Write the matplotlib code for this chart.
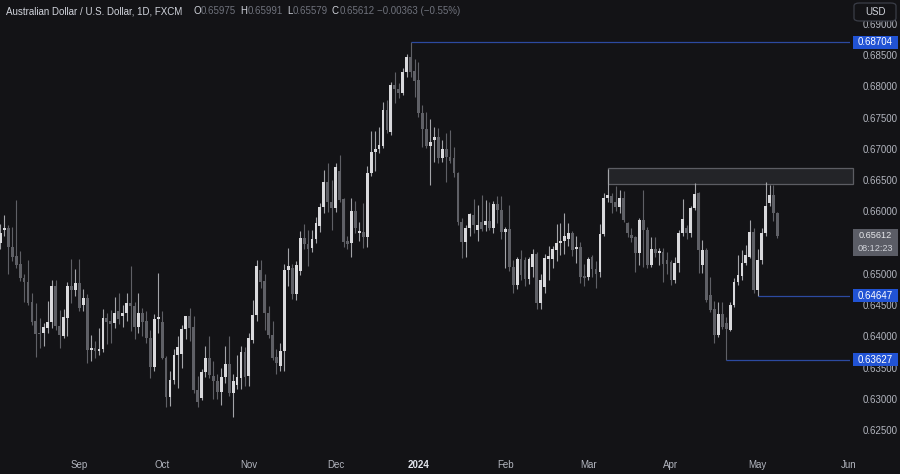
import numpy as np
import pandas as pd
import matplotlib
matplotlib.use("Agg")
import matplotlib.pyplot as plt
from matplotlib.patches import Rectangle, FancyBboxPatch
from matplotlib.transforms import blended_transform_factory

# AUD/USD daily candles, Aug 4 2023 -> May 8 2024
opens = [0.6549, 0.6570, 0.6573, 0.6543, 0.6528, 0.6516, 0.6493, 0.6487, 0.6455, 0.6425,
         0.6406, 0.6405, 0.6413, 0.6423, 0.6480, 0.6416, 0.6400, 0.6430, 0.6480, 0.6474,
         0.6485, 0.6450, 0.6461, 0.6378, 0.6381, 0.6376, 0.6380, 0.6430, 0.6424, 0.6421,
         0.6440, 0.6432, 0.6437, 0.6453, 0.6448, 0.6415, 0.6438, 0.6425, 0.6397, 0.6351,
         0.6428, 0.6423, 0.6365, 0.6303, 0.6330, 0.6370, 0.6372, 0.6412, 0.6432, 0.6415,
         0.6314, 0.6302, 0.6343, 0.6365, 0.6337, 0.6328, 0.6311, 0.6335, 0.6356, 0.6310,
         0.6322, 0.6333, 0.6375, 0.6336, 0.6394, 0.6434, 0.6506, 0.6488, 0.6437, 0.6402,
         0.6367, 0.6352, 0.6377, 0.6506, 0.6510, 0.6468, 0.6505, 0.6557, 0.6548, 0.6541,
         0.6556, 0.6577, 0.6607, 0.6647, 0.6615, 0.6605, 0.6664, 0.6620, 0.6553, 0.6549,
         0.6601, 0.6565, 0.6567, 0.6559, 0.6661, 0.6695, 0.6700, 0.6704, 0.6762, 0.6727,
         0.6802, 0.6795, 0.6789, 0.6823, 0.6847, 0.6825, 0.6810, 0.6757, 0.6731, 0.6704,
         0.6714, 0.6719, 0.6685, 0.6700, 0.6687, 0.6685, 0.6661, 0.6583, 0.6551, 0.6573,
         0.6594, 0.6570, 0.6583, 0.6578, 0.6584, 0.6573, 0.6612, 0.6602, 0.6567, 0.6571,
         0.6511, 0.6482, 0.6523, 0.6522, 0.6491, 0.6511, 0.6531, 0.6453, 0.6479, 0.6523,
         0.6523, 0.6538, 0.6550, 0.6553, 0.6556, 0.6565, 0.6540, 0.6543, 0.6497, 0.6495,
         0.6527, 0.6508, 0.6503, 0.6564, 0.6621, 0.6625, 0.6615, 0.6607, 0.6622, 0.6581,
         0.6562, 0.6559, 0.6533, 0.6586, 0.6570, 0.6514, 0.6540, 0.6533, 0.6535, 0.6522,
         0.6519, 0.6490, 0.6518, 0.6565, 0.6573, 0.6565, 0.6605, 0.6629, 0.6514, 0.6538,
         0.6466, 0.6444, 0.6402, 0.6436, 0.6422, 0.6410, 0.6450, 0.6487, 0.6496, 0.6517,
         0.6527, 0.6567, 0.6474, 0.6522, 0.6565, 0.6613, 0.6626, 0.65975]
highs = [0.6580, 0.6594, 0.6578, 0.6575, 0.6618, 0.6537, 0.6500, 0.6522, 0.6470, 0.6453,
         0.6430, 0.6422, 0.6457, 0.6490, 0.6490, 0.6442, 0.6443, 0.6487, 0.6524, 0.6508,
         0.6524, 0.6475, 0.6467, 0.6402, 0.6392, 0.6413, 0.6443, 0.6437, 0.6442, 0.6463,
         0.6470, 0.6450, 0.6470, 0.6512, 0.6455, 0.6470, 0.6445, 0.6440, 0.6410, 0.6435,
         0.6501, 0.6440, 0.6368, 0.6345, 0.6380, 0.6400, 0.6418, 0.6433, 0.6445, 0.6432,
         0.6337, 0.6348, 0.6385, 0.6400, 0.6360, 0.6340, 0.6350, 0.6385, 0.6400, 0.6340,
         0.6370, 0.6385, 0.6383, 0.6405, 0.6458, 0.6522, 0.6522, 0.6500, 0.6448, 0.6425,
         0.6380, 0.6390, 0.6515, 0.6542, 0.6515, 0.6520, 0.6568, 0.6580, 0.6570, 0.6570,
         0.6591, 0.6613, 0.6666, 0.6677, 0.6650, 0.6677, 0.6690, 0.6621, 0.6560, 0.6622,
         0.6617, 0.6583, 0.6613, 0.6672, 0.6728, 0.6728, 0.6735, 0.6775, 0.6778, 0.6807,
         0.6823, 0.6805, 0.6829, 0.6852, 0.68704, 0.6843, 0.6839, 0.6770, 0.6759, 0.6747,
         0.6735, 0.6734, 0.6714, 0.6725, 0.6730, 0.6703, 0.6663, 0.6590, 0.6578, 0.6598,
         0.6620, 0.6610, 0.6626, 0.6618, 0.6615, 0.6617, 0.6625, 0.6624, 0.6575, 0.6610,
         0.6522, 0.6527, 0.6538, 0.6527, 0.6527, 0.6540, 0.6535, 0.6500, 0.6532, 0.6545,
         0.6545, 0.6580, 0.6582, 0.6598, 0.6582, 0.6568, 0.6560, 0.6551, 0.6515, 0.6527,
         0.6530, 0.6520, 0.6580, 0.6630, 0.6668, 0.6629, 0.6640, 0.6634, 0.6632, 0.6583,
         0.6573, 0.6560, 0.6589, 0.6634, 0.6575, 0.6559, 0.6559, 0.6542, 0.6541, 0.6535,
         0.6522, 0.6527, 0.6570, 0.6620, 0.6578, 0.6608, 0.6645, 0.6631, 0.6554, 0.6541,
         0.6495, 0.6457, 0.6455, 0.6455, 0.6431, 0.6455, 0.6493, 0.6530, 0.6538, 0.6546,
         0.6586, 0.6573, 0.6540, 0.6573, 0.6647, 0.6642, 0.6642, 0.65991]
lows = [0.6540, 0.6560, 0.6500, 0.6520, 0.6510, 0.6488, 0.6455, 0.6450, 0.6418, 0.6367,
        0.6381, 0.6385, 0.6405, 0.6413, 0.6410, 0.6381, 0.6398, 0.6400, 0.6453, 0.6465,
        0.6440, 0.6440, 0.6357, 0.6360, 0.6365, 0.6370, 0.6375, 0.6388, 0.6390, 0.6413,
        0.6420, 0.6415, 0.6425, 0.6408, 0.6395, 0.6405, 0.6400, 0.6390, 0.6333, 0.6345,
        0.6405, 0.6363, 0.6287, 0.6288, 0.6323, 0.6318, 0.6350, 0.6395, 0.6393, 0.6310,
        0.6287, 0.6298, 0.6335, 0.6333, 0.6300, 0.6300, 0.6290, 0.6325, 0.6305, 0.6271,
        0.6316, 0.6315, 0.6320, 0.6320, 0.6390, 0.6425, 0.6478, 0.6410, 0.6398, 0.6362,
        0.6340, 0.6345, 0.6345, 0.6480, 0.6460, 0.6458, 0.6498, 0.6540, 0.6512, 0.6535,
        0.6549, 0.6567, 0.6597, 0.6599, 0.6570, 0.6599, 0.6615, 0.6543, 0.6540, 0.6527,
        0.6565, 0.6553, 0.6541, 0.6543, 0.6656, 0.6664, 0.6693, 0.6701, 0.6725, 0.6722,
        0.6773, 0.6781, 0.6786, 0.6815, 0.6815, 0.6783, 0.6751, 0.6703, 0.6701, 0.6642,
        0.6679, 0.6678, 0.6679, 0.6647, 0.6677, 0.6655, 0.6578, 0.6526, 0.6527, 0.6560,
        0.6565, 0.6553, 0.6568, 0.6568, 0.6570, 0.6565, 0.6582, 0.6555, 0.6509, 0.6505,
        0.6470, 0.6475, 0.6490, 0.6480, 0.6483, 0.6495, 0.6443, 0.6443, 0.6470, 0.6490,
        0.6510, 0.6520, 0.6530, 0.6532, 0.6545, 0.6528, 0.6518, 0.6485, 0.6480, 0.6490,
        0.6495, 0.6477, 0.6495, 0.6560, 0.6615, 0.6597, 0.6600, 0.6598, 0.6583, 0.6559,
        0.6551, 0.6503, 0.6514, 0.6511, 0.6510, 0.6511, 0.6527, 0.6514, 0.6487, 0.6500,
        0.6482, 0.6485, 0.6503, 0.6560, 0.6555, 0.6559, 0.6602, 0.6501, 0.6501, 0.6455,
        0.6439, 0.6389, 0.6399, 0.6412, 0.63627, 0.6408, 0.6447, 0.6482, 0.6490, 0.6514,
        0.6525, 0.6470, 0.64647, 0.6515, 0.6560, 0.6608, 0.6585, 0.65579]
closes = [0.6565, 0.6574, 0.6543, 0.6527, 0.6514, 0.6493, 0.6487, 0.6453, 0.6423, 0.6404,
          0.6403, 0.6415, 0.6423, 0.6480, 0.6416, 0.6402, 0.6431, 0.6480, 0.6474, 0.6485,
          0.6445, 0.6461, 0.6378, 0.6381, 0.6376, 0.6379, 0.6430, 0.6423, 0.6420, 0.6438,
          0.6428, 0.6437, 0.6453, 0.6448, 0.6415, 0.6438, 0.6423, 0.6397, 0.6351, 0.6427,
          0.6431, 0.6365, 0.6303, 0.6330, 0.6370, 0.6383, 0.6412, 0.6432, 0.6413, 0.6314,
          0.6295, 0.6343, 0.6365, 0.6338, 0.6328, 0.6311, 0.6335, 0.6356, 0.6310, 0.6328,
          0.6335, 0.6375, 0.6335, 0.6398, 0.6434, 0.6512, 0.6487, 0.6437, 0.6402, 0.6365,
          0.6357, 0.6377, 0.6506, 0.6512, 0.6468, 0.6514, 0.6557, 0.6548, 0.6540, 0.6556,
          0.6581, 0.6607, 0.6647, 0.6615, 0.6605, 0.6671, 0.6618, 0.6551, 0.6548, 0.6601,
          0.6573, 0.6568, 0.6559, 0.6661, 0.6695, 0.6700, 0.6706, 0.6762, 0.6730, 0.6802,
          0.6795, 0.6789, 0.6823, 0.6847, 0.6823, 0.6808, 0.6757, 0.6731, 0.6705, 0.6711,
          0.6719, 0.6685, 0.6700, 0.6687, 0.6681, 0.6661, 0.6583, 0.6551, 0.6573, 0.6595,
          0.6578, 0.6578, 0.6572, 0.6584, 0.6573, 0.6612, 0.6602, 0.6567, 0.6571, 0.6511,
          0.6482, 0.6523, 0.6498, 0.6492, 0.6523, 0.6531, 0.6453, 0.6490, 0.6525, 0.6528,
          0.6539, 0.6550, 0.6553, 0.6560, 0.6565, 0.6538, 0.6543, 0.6495, 0.6493, 0.6523,
          0.6508, 0.6500, 0.6564, 0.6621, 0.6626, 0.6613, 0.6607, 0.6622, 0.6586, 0.6565,
          0.6558, 0.6533, 0.6586, 0.6570, 0.6514, 0.6540, 0.6534, 0.6536, 0.6516, 0.6515,
          0.6490, 0.6518, 0.6565, 0.6587, 0.6566, 0.6605, 0.6627, 0.6538, 0.6538, 0.6458,
          0.6442, 0.6402, 0.6436, 0.6415, 0.6412, 0.6450, 0.6487, 0.6498, 0.6517, 0.6530,
          0.6567, 0.6474, 0.6522, 0.6565, 0.6608, 0.6626, 0.6598, 0.65612]

level_prices = [0.68704, 0.64647, 0.63627]
zone_low, zone_high = 0.6644, 0.6669
zone_start = "2024-03-08"
# 0.65500 sits under the live-price tag, so it is not listed
y_ticks = [0.625, 0.630, 0.635, 0.640, 0.645, 0.650, 0.660, 0.665,
           0.670, 0.675, 0.680, 0.685, 0.690]

title_parts = [("Australian Dollar / U.S. Dollar, 1D, FXCM", 6, "#d1d4dc"),
               ("O", 193, "#d1d4dc"), ("0.65975", 201, "#6f727c"),
               ("H", 240, "#d1d4dc"), ("0.65991", 248, "#6f727c"),
               ("L", 287, "#d1d4dc"), ("0.65579", 293, "#6f727c"),
               ("C", 332, "#d1d4dc"), ("0.65612", 340, "#6f727c"),
               ("\u22120.00363 (\u22120.55%)", 377, "#6f727c")]
countdown = "08:12:23"

# trading days of the feed (no bar on Jan 1)
all_days = pd.bdate_range("2023-08-04", "2024-06-28")
all_days = all_days[all_days != pd.Timestamp("2024-01-01")]
dates = all_days[:len(closes)]

o = np.array(opens); h = np.array(highs); l = np.array(lows); c = np.array(closes)
idx = np.arange(len(c))
up = c >= o

bg = "#131316"
up_col, dn_col = "#d9d9dc", "#5f6066"
txt_col = "#b2b5be"
blue = "#2153d4"
font = "Liberation Sans"

W, H = 900, 474
fig = plt.figure(figsize=(W / 100, H / 100), dpi=100)
fig.patch.set_facecolor(bg)
ax = fig.add_axes([0, 22 / H, 850 / W, 452 / H])
ax.set_facecolor(bg)
for s in ax.spines.values():
    s.set_visible(False)

xmax = 215.4
ax.set_xlim(-0.1, xmax)
ax.set_ylim(0.62148, 0.6938)

# zone
zx = dates.get_loc(pd.Timestamp(zone_start))
ax.add_patch(Rectangle((zx, zone_low), xmax + 0.8 - zx, zone_high - zone_low,
                       facecolor="#232428", edgecolor="#5c5d63", lw=0.9,
                       zorder=1, clip_on=False))

# wicks + bodies
ax.vlines(idx[up], l[up], h[up], color="#a3a4a8", lw=0.8, zorder=2)
ax.vlines(idx[~up], l[~up], h[~up], color=dn_col, lw=0.8, zorder=2)
body_h = np.maximum(np.abs(c - o), 0.00006)
ax.bar(idx[up], body_h[up], bottom=np.minimum(o, c)[up], width=0.72,
       color=up_col, zorder=3, linewidth=0)
ax.bar(idx[~up], body_h[~up], bottom=np.minimum(o, c)[~up], width=0.72,
       color=dn_col, zorder=3, linewidth=0)

# horizontal levels from the candle that made them
for p in level_prices:
    start = np.where(np.isclose(h, p) | np.isclose(l, p))[0][0]
    ax.hlines(p, start, xmax, color="#2c4aa0", lw=0.9, zorder=4)

# y axis on the right
ax.yaxis.tick_right()
ax.set_yticks(y_ticks)
ax.set_yticklabels([f"{v:.5f}" for v in y_ticks])
ax.tick_params(axis="y", length=0, pad=9, labelsize=7, labelcolor=txt_col)
for t in ax.get_yticklabels():
    t.set_fontfamily(font)

# month ticks
month_first = []
month_lab = []
per = all_days.to_period("M")
for i in range(1, len(all_days)):
    if per[i] != per[i - 1]:
        month_first.append(i)
        d = all_days[i]
        month_lab.append(str(d.year) if d.month == 1 else d.strftime("%b"))
ax.set_xticks(month_first)
ax.set_xticklabels(month_lab)
ax.tick_params(axis="x", length=0, pad=6, labelsize=7, labelcolor=txt_col)
for t in ax.get_xticklabels():
    t.set_fontfamily(font)
    if t.get_text() == "2024":
        t.set_fontweight("bold")
        t.set_color("#e0e3eb")

# price tags on the right scale
tr = blended_transform_factory(ax.transAxes, ax.transData)
ppx = 1 / 6250.0  # price per pixel
tx0, tw = 853 / 850, 45 / 850
for p in level_prices:
    ax.add_patch(Rectangle((tx0, p - 6.5 * ppx), tw, 13 * ppx, transform=tr,
                           facecolor=blue, edgecolor="none", clip_on=False, zorder=10))
    ax.text(tx0 + tw / 2, p, f"{p:.5f}", transform=tr, ha="center", va="center",
            color="white", fontsize=7, family=font, zorder=11, clip_on=False)

last = c[-1]
ax.add_patch(Rectangle((tx0, last - 20 * ppx), tw, 27 * ppx, transform=tr,
                       facecolor="#5b5d66", edgecolor="none", clip_on=False, zorder=10))
ax.text(tx0 + tw / 2, last + 0.5 * ppx, f"{last:.5f}", transform=tr, ha="center",
        va="center", color="#e6e7ea", fontsize=6.6, family=font, zorder=11,
        clip_on=False)
ax.text(tx0 + tw / 2, last - 12.5 * ppx, countdown, transform=tr, ha="center",
        va="center", color="#d0d2d8", fontsize=6.6, family=font, zorder=11,
        clip_on=False)

# USD box
fig.patches.append(FancyBboxPatch((854 / W, 1 - 21 / H), 42 / W, 18 / H,
                                  boxstyle="round,pad=0,rounding_size=0.006",
                                  transform=fig.transFigure, facecolor=bg,
                                  edgecolor="#3a3d47", lw=0.9, zorder=20))
fig.text(875 / W, 1 - 12 / H, "USD", ha="center", va="center", color="#d1d4dc",
         fontsize=7, family=font, zorder=21)

# header
for s, xp, col in title_parts:
    fig.text(xp / W, 1 - 11 / H, s, ha="left", va="center", color=col,
             fontsize=7, family=font)

fig.savefig("out.png", dpi=100, facecolor=bg)
